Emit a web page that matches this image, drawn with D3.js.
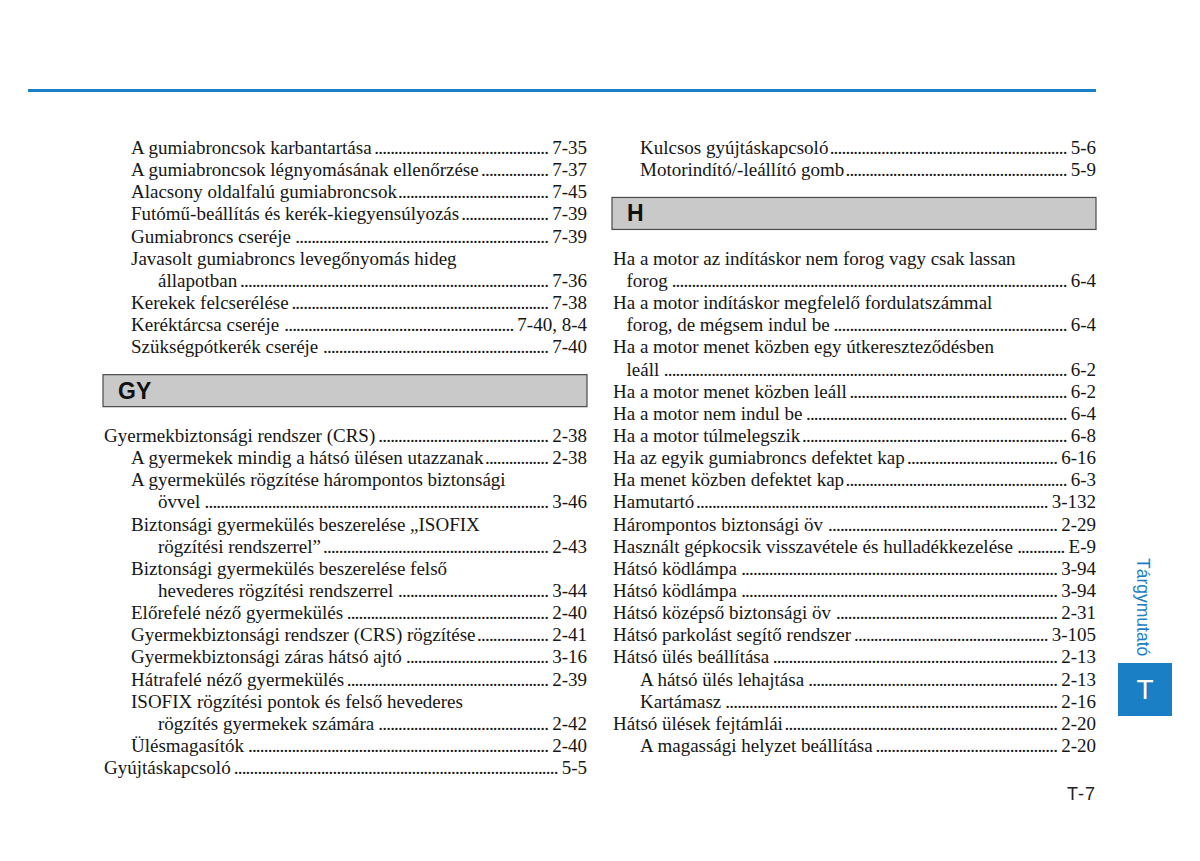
<!DOCTYPE html>
<html>
<head>
<meta charset="utf-8">
<script src="https://cdn.jsdelivr.net/npm/d3@7"></script>
<style>
  body { margin: 0; background: #fff; }
  svg { display: block; }
</style>
</head>
<body>
<svg></svg>
<script>
// index lines: [indent step, text, page] ; page null = line wraps, no leader
const leftBefore = [
    [2, "A gumiabroncsok karbantartása", "7-35"],
    [2, "A gumiabroncsok légnyomásának ellenőrzése", "7-37"],
    [2, "Alacsony oldalfalú gumiabroncsok", "7-45"],
    [2, "Futómű-beállítás és kerék-kiegyensúlyozás", "7-39"],
    [2, "Gumiabroncs cseréje", "7-39"],
    [2, "Javasolt gumiabroncs levegőnyomás hideg", null],
    [4, "állapotban", "7-36"],
    [2, "Kerekek felcserélése", "7-38"],
    [2, "Keréktárcsa cseréje", "7-40, 8-4"],
    [2, "Szükségpótkerék cseréje", "7-40"]
]
const leftHeader = "GY"
const leftAfter = [
    [0, "Gyermekbiztonsági rendszer (CRS)", "2-38"],
    [2, "A gyermekek mindig a hátsó ülésen utazzanak", "2-38"],
    [2, "A gyermekülés rögzítése hárompontos biztonsági", null],
    [4, "övvel", "3-46"],
    [2, "Biztonsági gyermekülés beszerelése „ISOFIX", null],
    [4, "rögzítési rendszerrel”", "2-43"],
    [2, "Biztonsági gyermekülés beszerelése felső", null],
    [4, "hevederes rögzítési rendszerrel", "3-44"],
    [2, "Előrefelé néző gyermekülés", "2-40"],
    [2, "Gyermekbiztonsági rendszer (CRS) rögzítése", "2-41"],
    [2, "Gyermekbiztonsági záras hátsó ajtó", "3-16"],
    [2, "Hátrafelé néző gyermekülés", "2-39"],
    [2, "ISOFIX rögzítési pontok és felső hevederes", null],
    [4, "rögzítés gyermekek számára", "2-42"],
    [2, "Ülésmagasítók", "2-40"],
    [0, "Gyújtáskapcsoló", "5-5"]
]
const rightBefore = [
    [2, "Kulcsos gyújtáskapcsoló", "5-6"],
    [2, "Motorindító/-leállító gomb", "5-9"]
]
const rightHeader = "H"
const rightAfter = [
    [0, "Ha a motor az indításkor nem forog vagy csak lassan", null],
    [1, "forog", "6-4"],
    [0, "Ha a motor indításkor megfelelő fordulatszámmal", null],
    [1, "forog, de mégsem indul be", "6-4"],
    [0, "Ha a motor menet közben egy útkereszteződésben", null],
    [1, "leáll", "6-2"],
    [0, "Ha a motor menet közben leáll", "6-2"],
    [0, "Ha a motor nem indul be", "6-4"],
    [0, "Ha a motor túlmelegszik", "6-8"],
    [0, "Ha az egyik gumiabroncs defektet kap", "6-16"],
    [0, "Ha menet közben defektet kap", "6-3"],
    [0, "Hamutartó", "3-132"],
    [0, "Hárompontos biztonsági öv", "2-29"],
    [0, "Használt gépkocsik visszavétele és hulladékkezelése", "E-9"],
    [0, "Hátsó ködlámpa", "3-94"],
    [0, "Hátsó ködlámpa", "3-94"],
    [0, "Hátsó középső biztonsági öv", "2-31"],
    [0, "Hátsó parkolást segítő rendszer", "3-105"],
    [0, "Hátsó ülés beállítása", "2-13"],
    [2, "A hátsó ülés lehajtása", "2-13"],
    [2, "Kartámasz", "2-16"],
    [0, "Hátsó ülések fejtámlái", "2-20"],
    [2, "A magassági helyzet beállítása", "2-20"]
]
const sideLabel = "Tárgymutató"
const sideLetter = "T"
const pageLabel = "T-7"

const
    width = 1200,
    height = 861,
    blue = "#1b7fc6",
    ink = "#161616",
    fontSize = 19,
    serif = "'Liberation Serif', 'Times New Roman', serif",
    sans = "'Liberation Sans', Arial, sans-serif"

const columns = [
    { x0: 104, x1: 587, before: leftBefore, header: leftHeader, after: leftAfter },
    { x0: 613, x1: 1096, before: rightBefore, header: rightHeader, after: rightAfter }
]

// row index -> text baseline
const y = d3.scaleLinear()
    .domain([0, 1])
    .range([154, 154 + 22.15])

const indent = d3.scaleLinear()
    .domain([0, 1])
    .range([0, 13.5])

const svg = d3.select("svg")
    .attr("width", width)
    .attr("height", height)
    .attr("viewBox", [0, 0, width, height])

svg.append("rect")
    .attr("width", width)
    .attr("height", height)
    .attr("fill", "#fff")

// top rule
svg.append("line")
    .attr("x1", 28).attr("x2", 1096)
    .attr("y1", 90.5).attr("y2", 90.5)
    .attr("stroke", blue)
    .attr("stroke-width", 3)

function drawColumn(col) {
    const g = svg.append("g")
    const n = col.before.length
    const rows = col.before.map((d, i) => ({ d, i }))
        .concat(col.after.map((d, i) => ({ d, i: n + 3 + i })))
    const headerY = y(n + 1) - 7

    g.append("rect")
        .attr("x", col.x0 - 1)
        .attr("y", headerY - 16)
        .attr("width", col.x1 - col.x0 + 1)
        .attr("height", 32)
        .attr("fill", "#c9c9c9")
        .attr("stroke", "#4a4a4a")
        .attr("stroke-width", 1.2)

    g.append("text")
        .attr("x", col.x0 + 14)
        .attr("y", headerY + 8)
        .attr("font-family", sans)
        .attr("font-weight", "bold")
        .attr("font-size", 23)
        .attr("fill", "#111")
        .text(col.header)

    const line = g.selectAll("g.row")
        .data(rows)
        .join("g")
        .attr("class", "row")
        .attr("font-family", serif)
        .attr("font-size", fontSize)
        .attr("fill", ink)

    line.append("text")
        .attr("class", "label")
        .attr("x", r => col.x0 + indent(r.d[0]))
        .attr("y", r => y(r.i))
        .text(r => r.d[1])

    line.filter(r => r.d[2])
        .append("text")
        .attr("class", "page")
        .attr("x", col.x1)
        .attr("y", r => y(r.i))
        .attr("text-anchor", "end")
        .text(r => r.d[2])

    // dot leaders filling the gap
    const probe = g.append("text")
        .attr("font-family", serif)
        .attr("font-size", fontSize)
        .attr("letter-spacing", -0.8)
        .text("..........")
    const dotW = probe.node().getComputedTextLength() / 10
    probe.remove()

    line.filter(r => r.d[2]).each(function (r) {
        const row = d3.select(this)
        const lw = row.select(".label").node().getComputedTextLength()
        const pw = row.select(".page").node().getComputedTextLength()
        const start = col.x0 + indent(r.d[0]) + lw + 1
        const end = col.x1 - pw - 4
        const count = Math.max(0, Math.floor((end - start) / dotW))
        row.append("text")
            .attr("x", end)
            .attr("y", y(r.i))
            .attr("text-anchor", "end")
            .attr("letter-spacing", -0.8)
            .text(".".repeat(count))
    })
}

columns.forEach(drawColumn)

// side tab
svg.append("text")
    .attr("transform", "translate(1137,558) rotate(90)")
    .attr("font-family", sans)
    .attr("font-size", 17.5)
    .attr("fill", blue)
    .text(sideLabel)

svg.append("rect")
    .attr("x", 1118)
    .attr("y", 663)
    .attr("width", 54)
    .attr("height", 53)
    .attr("fill", blue)

svg.append("text")
    .attr("x", 1145)
    .attr("y", 699)
    .attr("text-anchor", "middle")
    .attr("font-family", sans)
    .attr("font-size", 28)
    .attr("fill", "#fff")
    .text(sideLetter)

svg.append("text")
    .attr("x", 1096)
    .attr("y", 800)
    .attr("text-anchor", "end")
    .attr("font-family", sans)
    .attr("font-size", 18)
    .attr("letter-spacing", 1)
    .attr("fill", "#222")
    .text(pageLabel)
</script>
</body>
</html>
